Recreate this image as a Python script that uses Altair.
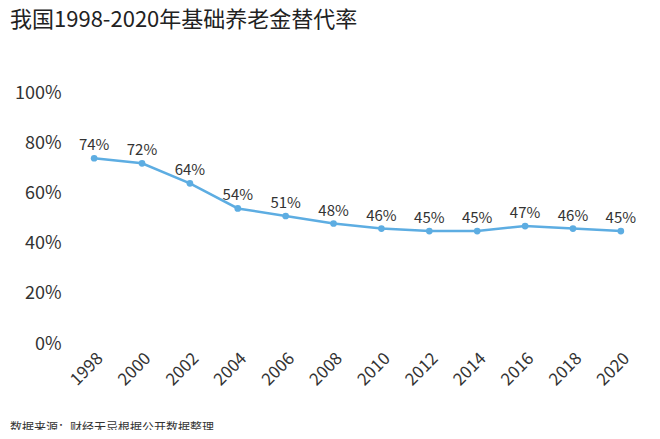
import altair as alt
import pandas as pd

years = ["1998","2000","2002","2004","2006","2008","2010","2012","2014","2016","2018","2020"]
rates = [74,72,64,54,51,48,46,45,45,47,46,45]
labels = [f"{v}%" for v in rates]
df = pd.DataFrame({"year": years, "rate": rates, "label": labels})

font = "Noto Sans CJK SC"
x = alt.X("year:O", sort=years, title=None,
          scale=alt.Scale(type="point", padding=0.4),
          axis=alt.Axis(labelAngle=-45, labelFontSize=17, labelColor="#333", labelFont=font,
                        domain=False, ticks=False, labelPadding=6, labelAlign="right", labelBaseline="top"))
y = alt.Y("rate:Q", title=None, scale=alt.Scale(domain=[0, 100]),
          axis=alt.Axis(values=[0,20,40,60,80,100], labelExpr="datum.value + '%'", labelFontSize=18,
                        labelColor="#333", labelFont=font, grid=False, domain=False, ticks=False, labelPadding=14))
base = alt.Chart(df).encode(x=x, y=y)
line = base.mark_line(color="#5DADE2", strokeWidth=2.5)
pts = base.mark_circle(color="#5DADE2", size=45, opacity=1)
txt = base.mark_text(dy=-13, fontSize=15, color="#333", font=font).encode(text="label")
src = alt.Chart(pd.DataFrame({"t": ["数据来源：财经无忌根据公开数据整理"]})).mark_text(
    align="left", baseline="middle", fontSize=12, color="#333", font=font
).encode(text="t:N", x=alt.value(-65), y=alt.value(335))

chart = alt.layer(line, pts, txt, src).properties(
    width=565, height=251,
    title=alt.Title("我国1998-2020年基础养老金替代率", anchor="start", fontSize=22, font=font,
                    fontWeight="normal", color="#222", dx=-65, offset=52, frame="group"),
    autosize=alt.AutoSizeParams(type="none"),
    padding={"left": 67, "top": 85, "right": 12, "bottom": 86},
).configure_view(stroke=None)
chart.save("out.html", embed_options={"renderer": "svg", "actions": False})
